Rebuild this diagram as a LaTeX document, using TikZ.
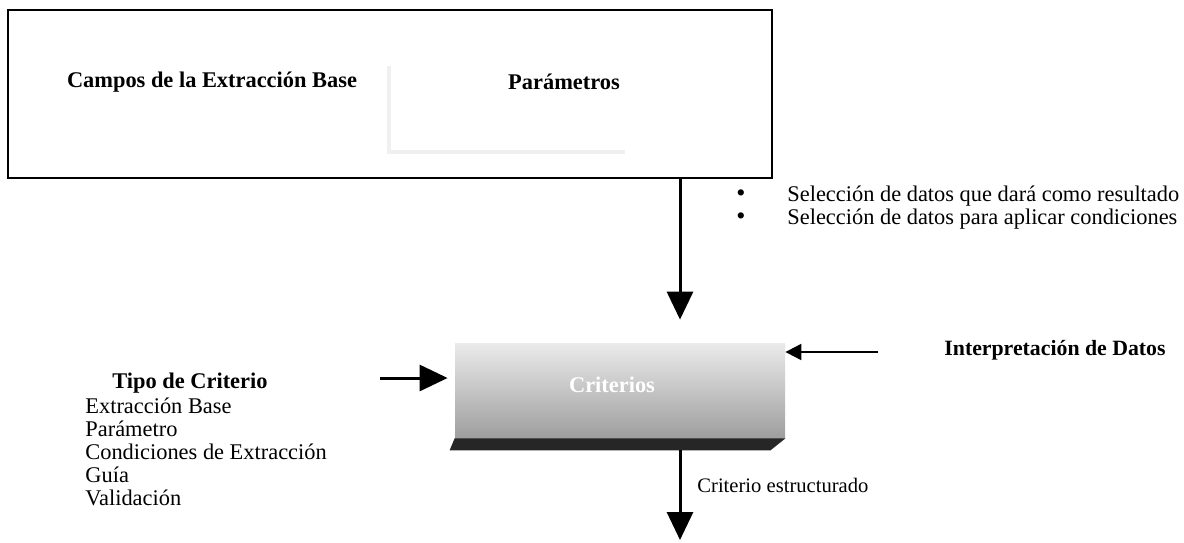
\documentclass[tikz,border=0pt]{standalone}
\usepackage{fontspec}
\setmainfont{Liberation Serif}
\usetikzlibrary{arrows.meta, positioning}

\begin{document}
\begin{tikzpicture}[
    x=0.5pt, y=-0.5pt,
    font=\fontsize{11.2}{11.5}\selectfont,
    head/.style={inner sep=0pt, font=\fontsize{11.2}{11.5}\selectfont\bfseries},
    plain/.style={inner sep=0pt, anchor=west},
    dot/.style={inner sep=0pt, font=\fontsize{13}{10}\selectfont},
    flow/.style={-{Triangle[length=14pt, width=13pt]}, line width=1.5pt},
    thin flow/.style={-{Triangle[length=8pt, width=8pt]}, line width=1pt},
]
\useasboundingbox (0,0) rectangle (1184,542);

% bloque superior
\node[draw, line width=1pt, minimum width=382pt, minimum height=84pt, inner sep=0pt] (campos) at (390,94) {};
\node[head] (tcampos) at (212,82) {Campos de la Extracción Base};
\node[head] (tparam) at (564,82) {Parámetros};
\draw[black!6, line width=2pt] (389,66) |- (625,152);

% seleccion de datos
\node[plain] (sel1) at (787,196) {Selección de datos que dará como resultado};
\node[plain] (sel2) at (787,219) {Selección de datos para aplicar condiciones};
\node[dot] at (741,196) {\textbullet};
\node[dot] at (741,219) {\textbullet};

% criterios
\node[inner sep=0pt, minimum width=165pt, minimum height=47.5pt, top color=black!8,
      bottom color=black!38] (crit) at (620,390.5) {};
\node[head, text=white] (tcrit) at (612,385) {Criterios};
\fill[black!85] ([xshift=-2.5pt,yshift=-6pt]crit.south west) -- (crit.south west)
    -- (crit.south east) -- ([xshift=-7.5pt,yshift=-6pt]crit.south east) -- cycle;
\coordinate (eje) at (680,0);
\coordinate (fin) at (680,540);
\coordinate (izq) at (380,378);
\coordinate (der) at (878,352);

\draw[flow, shorten >=11.5pt] (campos.south -| eje) -- (crit.north -| eje);
\draw[flow, shorten <=6pt] (crit.south -| eje) -- (fin);
\draw[flow, shorten >=3.5pt] (izq) -- (crit.west |- izq);
\draw[thin flow] (der) -- (crit.east |- der);

% textos laterales
\node[head] (ttipo) at (190,383) {Tipo de Criterio};
\node[plain, align=left] (tipos) at (85,451.5) {Extracción Base\\Parámetro\\Condiciones de Extracción\\Guía\\Validación};
\node[head, font=\fontsize{10.9}{11.5}\selectfont\bfseries] (interp) at (1055,350) {Interpretación de Datos};
\node[plain, font=\fontsize{10.3}{11.5}\selectfont] (estr) at (697,485) {Criterio estructurado};

\end{tikzpicture}
\end{document}
